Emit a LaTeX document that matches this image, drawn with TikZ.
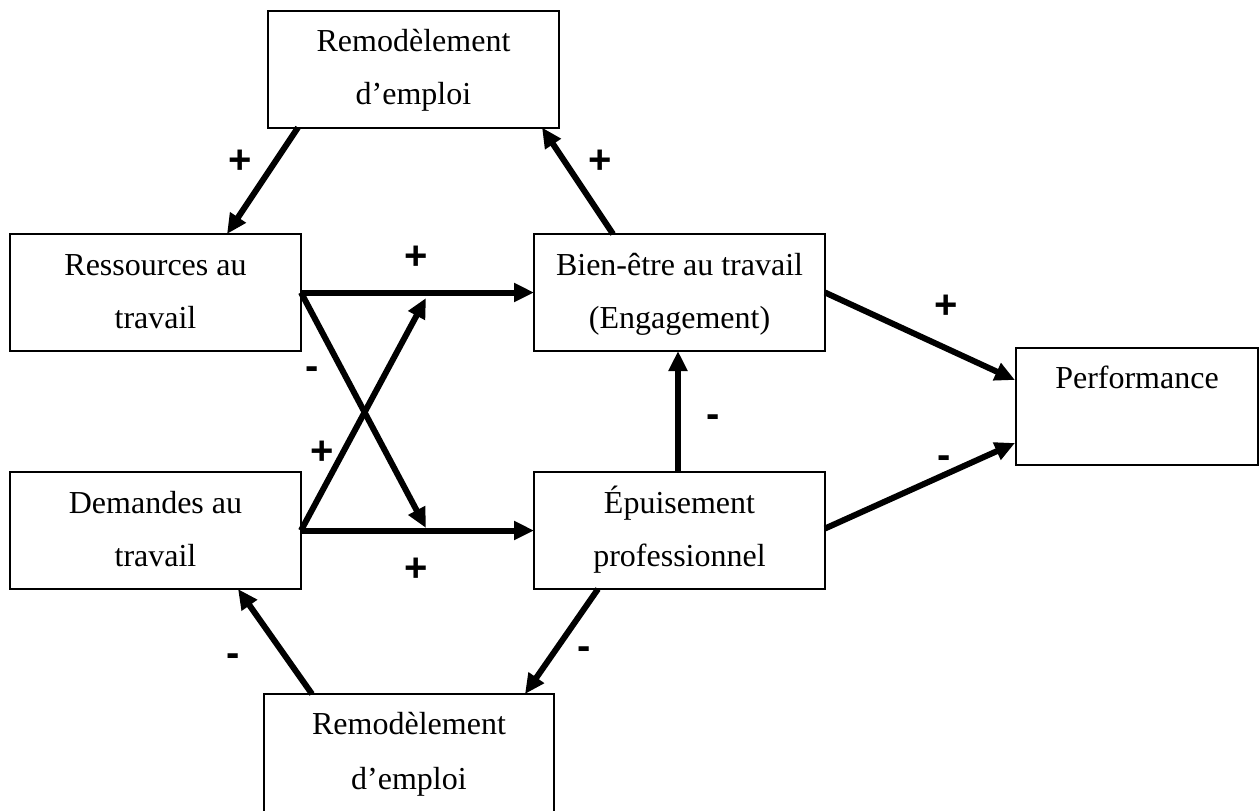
\documentclass[tikz,border=0pt]{standalone}
\usepackage{fontspec}
\setmainfont{Liberation Serif}
\newfontfamily\signfont{Liberation Sans}
\usetikzlibrary{arrows.meta,calc}
\begin{document}
\begin{tikzpicture}[x=0.5pt,y=-0.5pt,
  box/.style={draw,line width=1pt,minimum width=145.5pt,minimum height=58.5pt,inner sep=0pt,outer sep=0pt},
  txtline/.style={anchor=base,font=\fontsize{16}{19}\selectfont,inner sep=0pt},
  link/.style={line width=3pt,-{Triangle[length=10pt,width=9pt]}},
  sign/.style={font=\signfont\bfseries\fontsize{20}{24}\selectfont,inner sep=0pt}]

\useasboundingbox (0,0) rectangle (1259,810);

% boxes
\node[box] (tr) at (413.5,69) {};
\node[box] (res) at (155.5,292.5) {};
\node[box] (bet) at (679.5,292.5) {};
\node[box,minimum width=121pt] (perf) at (1137,406.5) {};
\node[box] (dem) at (155.5,530.5) {};
\node[box] (epu) at (679.5,530.5) {};
\node[box,minimum width=145pt,minimum height=59pt] (br) at (409,753) {};

% box texts, top aligned
\node[txtline] (tr-a) at ($(tr.north)+(0,41)$) {Remodèlement};
\node[txtline] (tr-b) at ($(tr.north)+(0,94)$) {d’emploi};
\node[txtline] (res-a) at ($(res.north)+(0,41)$) {Ressources au};
\node[txtline] (res-b) at ($(res.north)+(0,94)$) {travail};
\node[txtline] (bet-a) at ($(bet.north)+(0,41)$) {Bien-être au travail};
\node[txtline] (bet-b) at ($(bet.north)+(0,94)$) {(Engagement)};
\node[txtline] (perf-a) at ($(perf.north)+(0,40)$) {Performance};
\node[txtline] (dem-a) at ($(dem.north)+(0,41)$) {Demandes au};
\node[txtline] (dem-b) at ($(dem.north)+(0,94)$) {travail};
\node[txtline] (epu-a) at ($(epu.north)+(0,41)$) {Épuisement};
\node[txtline] (epu-b) at ($(epu.north)+(0,94)$) {professionnel};
\node[txtline] (br-a) at ($(br.north)+(0,40)$) {Remodèlement};
\node[txtline] (br-b) at ($(br.north)+(0,95)$) {d’emploi};

% free ends of the crossing arrows
\coordinate (xdown) at (426,528);
\coordinate (xup) at (426,298);

% connectors
\draw[link] ($(tr.south west)+(30,0)$) -- ($(res.north west)+(217,0)$);
\draw[link] ($(bet.north west)+(79,0)$) -- ($(tr.south west)+(274,0)$);
\draw[link] (res.east) -- (bet.west);
\draw[link] (res.east) -- (xdown);
\draw[link] (dem.east) -- (xup);
\draw[link] (dem.east) -- (epu.west);
\draw[link] ($(epu.north)+(-1.5,0)$) -- ($(bet.south)+(-1.5,0)$);
\draw[link] (bet.east) -- ($(perf.west)+(-1,-26.5)$);
\draw[link] ($(epu.east)+(0,-2)$) -- ($(perf.west)+(-1,36.5)$);
\draw[link] ($(epu.south west)+(64,0)$) -- ($(br.north west)+(261,0)$);
\draw[link] ($(br.north west)+(48,0)$) -- ($(dem.south west)+(228,0)$);

% signs
\node[sign] (s1) at (240,162) {+};
\node[sign] (s2) at (600,162) {+};
\node[sign] (s3) at (416,258) {+};
\node[sign] (s4) at (312,373) {-};
\node[sign] (s5) at (322,453) {+};
\node[sign] (s6) at (713,421) {-};
\node[sign] (s7) at (416,570) {+};
\node[sign] (s8) at (946,307) {+};
\node[sign] (s9) at (944,462) {-};
\node[sign] (s10) at (233,660) {-};
\node[sign] (s11) at (584,653) {-};
\end{tikzpicture}
\end{document}
